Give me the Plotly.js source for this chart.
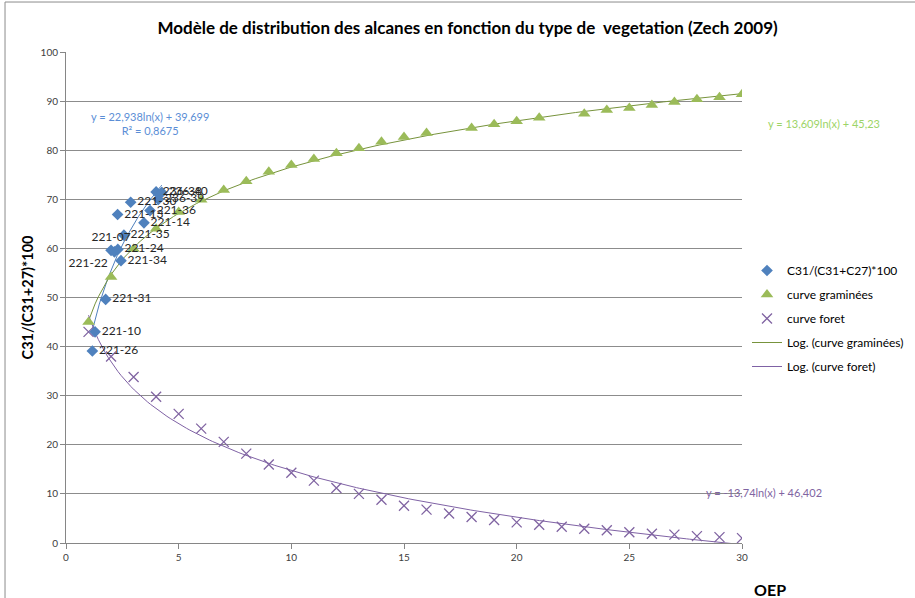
<!DOCTYPE html>
<html>
<head>
<meta charset="utf-8">
<script src="https://cdn.plot.ly/plotly-3.0.1.min.js"></script>
<style>html,body{margin:0;padding:0;background:#fff;}#chart{width:915px;height:598px;}</style>
</head>
<body>
<div id="chart"></div>
<script>
// Blue series: C31/(C31+C27)*100 (sample points with labels)
const sampleLabels = ["221-26","221-10","221-31","221-07","221-22","221-24","221-34","221-35","221-13","221-30","221-14","221-36","236-39","236-38","236-40"];
const sampleX = [1.17, 1.29, 1.76, 2.0, 2.15, 2.3, 2.44, 2.57, 2.29, 2.87, 3.46, 3.73, 4.1, 4.0, 4.25];
const sampleY = [39.1, 43.0, 49.6, 59.6, 59.3, 59.8, 57.5, 62.7, 66.9, 69.4, 65.2, 67.7, 70.0, 71.5, 71.4];

// Green series: curve graminées
const gramX = [1,2,3,4,5,6,7,8,9,10,11,12,13,14,15,16,18,19,20,21,23,24,25,26,27,28,29,30];
const gramY = [45.0,54.2,59.9,64.0,67.4,69.9,71.9,73.7,75.6,77.0,78.2,79.4,80.4,81.7,82.7,83.5,84.5,85.3,85.9,86.6,87.4,88.2,88.6,89.2,89.8,90.4,90.8,91.4];

// Purple series: curve foret
const foretX = [1,2,3,4,5,6,7,8,9,10,11,12,13,14,15,16,17,18,19,20,21,22,23,24,25,26,27,28,29,30];
const foretY = [43.0,38.0,33.8,29.8,26.3,23.3,20.6,18.2,16.0,14.3,12.7,11.2,10.0,8.8,7.6,6.8,6.0,5.3,4.7,4.2,3.7,3.3,2.9,2.6,2.2,1.9,1.7,1.4,1.2,1.0];

// Logarithmic trendline coefficients (y = a ln(x) + b), as shown on the chart
const sampleFit = {a: 22.938, b: 39.699};
const gramFit = {a: 13.609, b: 45.23};
const foretFit = {a: -13.74, b: 46.402};

const xTicks = [0,5,10,15,20,25,30];
const yTicks = [0,10,20,30,40,50,60,70,80,90,100];

function logCurve(fit, x0, x1) {
  const xs = [], ys = [];
  const n = 200;
  for (let i = 0; i <= n; i++) {
    const x = x0 + (x1 - x0) * i / n;
    xs.push(x); ys.push(fit.a * Math.log(x) + fit.b);
  }
  return {xs, ys};
}

const sampleCurve = logCurve(sampleFit, Math.min(...sampleX), Math.max(...sampleX));
const gramCurve = logCurve(gramFit, Math.min(...gramX), Math.max(...gramX));
const foretCurve = logCurve(foretFit, Math.min(...foretX), Math.max(...foretX));

const labelPos = sampleLabels.map(l => {
  if (l === "221-07") return "top center";
  if (l === "221-22") return "bottom left";
  return "middle right";
});

const FONT = "Lato, Roboto, Arial, sans-serif";

const traces = [
  {x: sampleCurve.xs, y: sampleCurve.ys, mode: 'lines', line: {color: '#4F81BD', width: 1}, showlegend: false, hoverinfo: 'skip'},
  {x: gramCurve.xs, y: gramCurve.ys, mode: 'lines', line: {color: '#77933C', width: 1}, showlegend: false, hoverinfo: 'skip'},
  {x: foretCurve.xs, y: foretCurve.ys, mode: 'lines', line: {color: '#7F62A5', width: 1}, showlegend: false, hoverinfo: 'skip'},
  {x: gramX, y: gramY, mode: 'markers', name: 'curve graminées', legendgroup: 'g2', legendrank: 2,
   marker: {symbol: 'triangle-up', size: 11, color: '#9BBB59'}},
  {x: foretX, y: foretY, mode: 'markers', name: 'curve foret', legendgroup: 'g3', legendrank: 3,
   marker: {symbol: 'x-thin-open', size: 10, color: '#8064A2', line: {color: '#8064A2', width: 1.3}}},
  {x: sampleX, y: sampleY, text: sampleLabels, mode: 'markers+text', textposition: labelPos, name: 'C31/(C31+C27)*100',
   legendgroup: 'g1', legendrank: 1, cliponaxis: false,
   textfont: {family: FONT, size: 12, color: '#262626'},
   marker: {symbol: 'diamond', size: 9, color: '#4F81BD'}},
  {x: [null], y: [null], mode: 'lines', name: 'Log. (curve graminées)', legendgroup: 'g4', legendrank: 4,
   line: {color: '#77933C', width: 1}},
  {x: [null], y: [null], mode: 'lines', name: 'Log. (curve foret)', legendgroup: 'g5', legendrank: 5,
   line: {color: '#7F62A5', width: 1}}
];

const axisCommon = {
  showline: true, linecolor: '#868686', linewidth: 1,
  ticks: 'outside', ticklen: 5, tickcolor: '#868686',
  tickfont: {family: FONT, size: 10, color: '#404040'},
  zeroline: false
};

const layout = {
  width: 915, height: 598,
  margin: {l: 66, r: 173, t: 52, b: 55, autoexpand: false},
  paper_bgcolor: '#ffffff', plot_bgcolor: '#ffffff',
  font: {family: FONT, color: '#000'},
  title: {text: '<b>Modèle de distribution des alcanes en fonction du type de  vegetation (Zech 2009)</b>',
          font: {family: FONT, size: 17, color: '#000'}, x: 0.511, xanchor: 'center', y: 0.953, yanchor: 'middle'},
  xaxis: Object.assign({}, axisCommon, {range: [0, 30], tickvals: xTicks, showgrid: false}),
  yaxis: Object.assign({}, axisCommon, {range: [0, 100], tickvals: yTicks, showgrid: true, gridcolor: '#8C8C8C', gridwidth: 1,
    title: {text: '<b>C31/(C31+27)*100</b>', font: {family: FONT, size: 14.5, color: '#000'}, standoff: 3}}),
  legend: {x: 1.0074, xanchor: 'left', y: 0.5845, yanchor: 'top', tracegroupgap: 5,
           font: {family: FONT, size: 12, color: '#000'}, bgcolor: 'rgba(0,0,0,0)', itemwidth: 30},
  annotations: [
    {xref: 'x', yref: 'y', x: 3.73, y: 85.4, text: 'y = 22,938ln(x) + 39,699<br>R² = 0,8675', showarrow: false,
     xanchor: 'center', yanchor: 'middle',
     font: {family: FONT, size: 11, color: '#5B8ED6'}, align: 'center'},
    {xref: 'paper', yref: 'paper', x: 1.121, y: 0.855, text: 'y = 13,609ln(x) + 45,23', showarrow: false,
     xanchor: 'center', yanchor: 'middle',
     font: {family: FONT, size: 11, color: '#9CD466'}},
    {xref: 'paper', yref: 'y', x: 1.032, y: 10.2, text: 'y = -13,74ln(x) + 46,402', showarrow: false,
     xanchor: 'center', yanchor: 'middle',
     font: {family: FONT, size: 11, color: '#8064A2'}},
    {xref: 'paper', yref: 'paper', x: 1.0414, y: -0.0957, text: '<b>OEP</b>', showarrow: false, xanchor: 'center', yanchor: 'middle',
     font: {family: FONT, size: 16, color: '#000'}}
  ],
  shapes: [
    {type: 'line', xref: 'paper', yref: 'paper', x0: -0.0902, x1: -0.0902, y0: 1.1018, y1: -0.13, line: {color: '#8C8C8C', width: 1}},
    {type: 'line', xref: 'paper', yref: 'paper', x0: -0.0902, x1: 1.27, y0: 1.1018, y1: 1.1018, line: {color: '#8C8C8C', width: 1}}
  ]
};

Plotly.newPlot('chart', traces, layout, {displayModeBar: false, staticPlot: true});
</script>
</body>
</html>
